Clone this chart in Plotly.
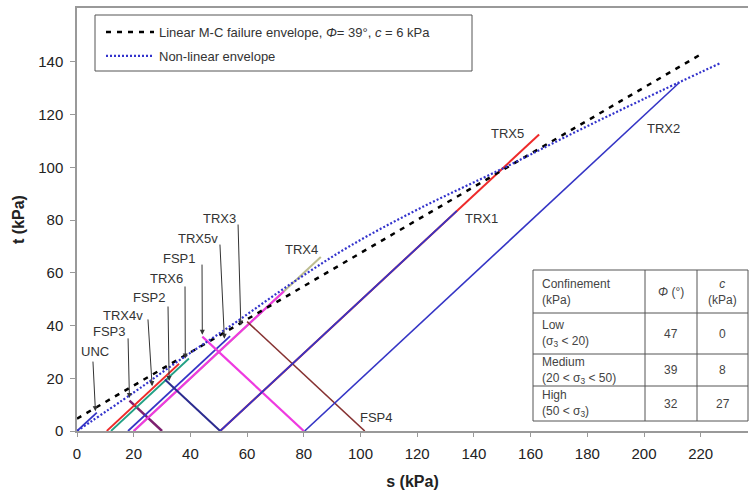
import plotly.graph_objects as go

# ---------------- data (s, t in kPa) ----------------
lin_s = [0, 221]
lin_t = [4.7, 143.5]

nl_s = [0, 20, 35, 55, 75, 96, 121, 150, 175, 200, 227]
nl_t = [0, 14.6, 26.0, 40.5, 55.5, 70.0, 84.5, 99.5, 113.0, 126.0, 139.6]

path_names = ["TRX4", "TRX5", "UNC", "FSP3", "TRX4v", "TRX6", "TRX5v", "TRX3",
              "FSP2", "FSP1", "FSP4", "TRX1", "TRX2"]
path_s0 = [20, 50.5, 0, 30, 10.5, 12, 18, 20, 50.5, 80, 101.5, 50.5, 80.3]
path_s1 = [86, 163, 7, 18.5, 36, 39.5, 54, 73, 31, 44.2, 60, 134, 212.5]
path_t1 = [66, 112.5, 7, 11.5, 25.5, 27.5, 36, 53, 19.5, 35.8, 41.5, 83.5, 132.2]

# failure points marked with arrows
fail_names = ["UNC", "FSP3", "TRX4v", "FSP2", "TRX6", "FSP1", "TRX5v", "TRX3"]
fail_s = [6.5, 18.5, 26.5, 32.5, 38.2, 44.2, 52.0, 57.8]
fail_t = [7.5, 12.5, 17.0, 19.0, 27.5, 36.5, 35.0, 40.0]

# table
conf_labels = ["Low<br>(σ<sub>3</sub> &lt; 20)",
               "Medium<br>(20 &lt; σ<sub>3</sub> &lt; 50)",
               "High<br>(50 &lt; σ<sub>3</sub>)"]
phi_vals = ["47", "39", "32"]
c_vals = ["0", "8", "27"]

# ---------------- styles ----------------
path_style = {
    "TRX4": ("#bdbd90", 2),
    "TRX5": ("#ee2a2a", 2),
    "UNC": ("#3535c5", 1.8),
    "FSP3": ("#7d2070", 2.5),
    "TRX4v": ("#ee2a2a", 1.8),
    "TRX6": ("#22a085", 1.8),
    "TRX5v": ("#3535c5", 1.8),
    "TRX3": ("#ee3ae0", 2.2),
    "FSP2": ("#2b2b8f", 2),
    "FSP1": ("#ee3ae0", 2.2),
    "FSP4": ("#863232", 1.6),
    "TRX1": ("#3535c5", 1.8),
    "TRX2": ("#3535c5", 1.6),
}

# label text positions (data coords) and arrow tail positions
label_pos = {
    "UNC": (6.3, 30.0), "FSP3": (11.3, 37.6), "TRX4v": (16.2, 44.0),
    "FSP2": (25.7, 50.5), "TRX6": (31.7, 57.7), "FSP1": (36.3, 65.6),
    "TRX5v": (42.7, 73.2), "TRX3": (50.4, 80.8), "TRX4": (79.3, 68.7),
    "TRX1": (142.7, 80.7), "TRX5": (151.7, 113.0), "TRX2": (206.8, 114.8),
    "FSP4": (105.5, 5.2),
}
arrow_tail = {
    "UNC": (5.6, 26.9), "FSP3": (18.0, 35.7), "TRX4v": (25.0, 42.9),
    "FSP2": (32.1, 47.8), "TRX6": (38.1, 55.4), "FSP1": (44.1, 63.7),
    "TRX5v": (50.4, 71.3), "TRX3": (56.8, 78.9),
}

FONT = "Liberation Sans, Arial, sans-serif"

fig = go.Figure()

for name, s0, s1, t1 in zip(path_names, path_s0, path_s1, path_t1):
    col, w = path_style[name]
    fig.add_trace(go.Scatter(x=[s0, s1], y=[0, t1], mode="lines",
                             line=dict(color=col, width=w),
                             showlegend=False, hoverinfo="skip"))

fig.add_trace(go.Scatter(x=lin_s, y=lin_t, mode="lines",
                         name="Linear M-C failure envelope, <i>Φ</i>= 39°, <i>c</i> = 6 kPa",
                         line=dict(color="black", width=2.5, dash="5px,6px"),
                         legendrank=1, legendgroup="a"))
fig.add_trace(go.Scatter(x=nl_s, y=nl_t, mode="lines", line_shape="spline",
                         name="Non-linear envelope",
                         line=dict(color="#3333cc", width=2.2, dash="2px,2px"),
                         legendrank=2, legendgroup="b"))

# path labels
for name, (lx, ly) in label_pos.items():
    fig.add_annotation(x=lx, y=ly, text=name, showarrow=False,
                       font=dict(family=FONT, size=13, color="#333333"),
                       xanchor="center", yanchor="middle")

# arrows to failure points
for name, fs, ft in zip(fail_names, fail_s, fail_t):
    ax, ay = arrow_tail[name]
    fig.add_annotation(x=fs, y=ft, ax=ax, ay=ay, axref="x", ayref="y",
                       xref="x", yref="y", text="", showarrow=True,
                       arrowhead=2, arrowsize=1, arrowwidth=1,
                       arrowcolor="#333333", standoff=0)

# ---------------- table (paper coords from pixel grid) ----------------
L, R, T, B = 77, 748, 8, 431
def px(x):
    return (x - L) / (R - L)
def py(y):
    return (B - y) / (B - T)

cols = [533, 645, 697, 748]
rows = [270, 313, 354, 386, 421]
fig.add_shape(type="rect", xref="paper", yref="paper",
              x0=px(cols[0]), x1=px(cols[-1]), y0=py(rows[-1]), y1=py(rows[0]),
              line=dict(color="#555555", width=1), fillcolor="white", layer="above")
for cx in cols[1:-1]:
    fig.add_shape(type="line", xref="paper", yref="paper",
                  x0=px(cx), x1=px(cx), y0=py(rows[-1]), y1=py(rows[0]),
                  line=dict(color="#555555", width=1), layer="above")
for ry in rows[1:-1]:
    fig.add_shape(type="line", xref="paper", yref="paper",
                  x0=px(cols[0]), x1=px(cols[-1]), y0=py(ry), y1=py(ry),
                  line=dict(color="#555555", width=1), layer="above")

tfont = dict(family=FONT, size=12, color="#444444")
header = ["Confinement<br>(kPa)", "<i>Φ</i> (°)", "<i>c</i><br>(kPa)"]
all_rows = [header] + [[a, b, c] for a, b, c in zip(conf_labels, phi_vals, c_vals)]
for ri, rowvals in enumerate(all_rows):
    yc = (rows[ri] + rows[ri + 1]) / 2
    for ci, txt in enumerate(rowvals):
        if ci == 0:
            fig.add_annotation(xref="paper", yref="paper", x=px(cols[0] + 7), y=py(yc),
                               text=txt, showarrow=False, xanchor="left",
                               yanchor="middle", align="left", font=tfont)
        else:
            xc = (cols[ci] + cols[ci + 1]) / 2
            fig.add_annotation(xref="paper", yref="paper", x=px(xc), y=py(yc),
                               text=txt, showarrow=False, xanchor="center",
                               yanchor="middle", align="center", font=tfont)

# legend box
fig.add_shape(type="rect", xref="paper", yref="paper",
              x0=px(95), x1=px(472), y0=py(71), y1=py(15),
              line=dict(color="#555555", width=1), fillcolor="rgba(0,0,0,0)")

fig.update_layout(
    width=749, height=493,
    margin=dict(l=L, r=749 - R, t=T, b=493 - B),
    plot_bgcolor="white", paper_bgcolor="white",
    font=dict(family=FONT, color="#222222"),
    legend=dict(x=px(101), y=py(17), xanchor="left", yanchor="top",
                bgcolor="rgba(0,0,0,0)", borderwidth=0,
                font=dict(family=FONT, size=13, color="#333333"),
                itemwidth=48, tracegroupgap=4),
    xaxis=dict(range=[0, (R - L) / 2.835], tickvals=list(range(0, 221, 20)),
               showgrid=False, zeroline=False, showline=True, linecolor="#999999",
               linewidth=1.5, mirror=True, ticks="outside", ticklen=4,
               tickcolor="#999999", ticklabelstandoff=4,
               tickfont=dict(family=FONT, size=15, color="#222222"),
               title=dict(text="<b>s (kPa)</b>", font=dict(family=FONT, size=16, color="#222222"),
                          standoff=15)),
    yaxis=dict(range=[0, (B - T) / 2.636], tickvals=list(range(0, 141, 20)),
               showgrid=False, zeroline=False, showline=True, linecolor="#999999",
               linewidth=1.5, ticks="outside", ticklen=5, tickcolor="#999999",
               ticklabelstandoff=4,
               tickfont=dict(family=FONT, size=15, color="#222222"),
               title=dict(text="<b>t (kPa)</b>", font=dict(family=FONT, size=16, color="#222222"),
                          standoff=10)),
)

fig.write_html("out.html")
